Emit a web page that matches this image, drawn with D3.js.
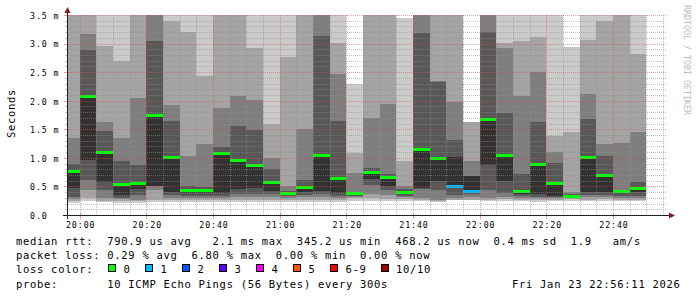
<!DOCTYPE html>
<html>
<head>
<meta charset="utf-8">
<script src="https://cdn.jsdelivr.net/npm/d3@7"></script>
<style>
  body { margin: 0; background: #fff; }
  svg text { font-family: "DejaVu Sans Mono", monospace; white-space: pre; }
</style>
</head>
<body>
<svg id="chart" width="697" height="297"></svg>
<script>
// off-scale ping (above the graph max, drawn to the top like smokeping's INF)
var INF = Infinity;

var timeStart = '19:56:11';
var timeEnd = '22:56:11';
var yMax = 3.5;

// end time of each 5 minute step
var times = [
  '20:00','20:05','20:10','20:15','20:20','20:25','20:30','20:35','20:40','20:45',
  '20:50','20:55','21:00','21:05','21:10','21:15','21:20','21:25','21:30','21:35',
  '21:40','21:45','21:50','21:55','22:00','22:05','22:10','22:15','22:20','22:25',
  '22:30','22:35','22:40','22:45','22:50'
];

// 10 sorted pings per step, in ms (null = lost)
var pings = [
  [.21,.25,.28,.32,.48,.79,.90,1.34,INF,INF],
  [.25,.29,.44,.61,.96,2.07,2.88,3.17,INF,INF],
  [.22,.25,.29,.44,.58,1.09,1.47,1.62,2.95,INF],
  [.21,.25,.28,.30,.35,.55,.95,1.34,2.69,INF],
  [.21,.24,.27,.35,.45,.57,.87,2.04,INF,INF],
  [.22,.27,.43,.50,.51,1.75,3.04,INF,INF,INF],
  [.22,.26,.30,.35,.41,1.01,1.64,1.93,3.40,INF],
  [.22,.26,.30,.33,.38,.45,.50,1.04,3.21,INF],
  [.22,.26,.30,.34,.38,.45,.49,1.25,2.44,INF],
  [.22,.26,.30,.34,.39,1.08,1.19,1.88,INF,INF],
  [.22,.26,.31,.37,.46,.97,1.56,2.08,INF,INF],
  [.22,.26,.31,.37,.47,.88,1.48,2.01,2.92,INF],
  [.22,.26,.31,.36,.42,.58,.80,.99,1.59,INF],
  [.22,.26,.30,.33,.35,.40,.42,.50,2.77,INF],
  [.22,.27,.31,.35,.40,.51,.62,1.51,INF,INF],
  [.22,.27,.31,.36,.42,1.06,3.13,INF,INF,INF],
  [.22,.26,.30,.34,.39,.66,1.64,2.47,3.01,INF],
  [.25,.30,.32,.34,.355,.37,.385,.735,1.085,2.29],
  [.25,.30,.37,.53,.63,.77,.83,1.70,INF,INF],
  [.24,.28,.35,.43,.50,.69,.72,1.94,INF,INF],
  [.24,.28,.31,.34,.36,.40,.45,.50,.94,3.45],
  [.25,.27,.29,.46,.47,1.17,3.19,INF,INF,INF],
  [.23,.25,.27,.44,.595,1.00,2.32,2.34,INF,INF],
  [.24,.27,.30,.35,.50,1.02,1.31,1.98,INF,null],
  [.24,.27,.31,.36,.41,.68,.69,.945,1.63,null],
  [.24,.27,.30,.44,.88,1.69,3.20,INF,INF,INF],
  [.24,.28,.32,.38,.60,1.05,1.79,2.92,3.01,INF],
  [.24,.27,.30,.33,.36,.44,.72,2.08,3.04,INF],
  [.23,.26,.29,.32,.36,.89,1.63,2.51,3.11,INF],
  [.24,.27,.29,.31,.33,.57,.91,1.11,1.38,INF],
  [.25,.28,.30,.31,.32,.34,.36,.40,1.45,2.94],
  [.24,.27,.31,.35,.41,1.03,1.68,2.12,3.06,INF],
  [.25,.28,.31,.35,.41,.71,1.04,1.24,3.40,INF],
  [.24,.26,.30,.34,.38,.43,.44,1.26,INF,INF],
  [.24,.27,.30,.34,.40,.47,.58,1.46,2.81,INF]
];

var median = [
  .77,2.07,1.09,.53,.56,1.74,1.00,.43,.43,1.07,
  .96,.87,.57,.38,.49,1.04,.64,.37,.75,.66,
  .39,1.15,.99,.50,.41,1.67,1.04,.42,.88,.56,
  .33,1.01,.70,.42,.46
];

// lost pings out of 10
var loss = [
  0,0,0,0,0,0,0,0,0,0,
  0,0,0,0,0,0,0,0,0,0,
  0,0,0,1,1,0,0,0,0,0,
  0,0,0,0,0
];

var yTicks = [0, 0.5, 1.0, 1.5, 2.0, 2.5, 3.0, 3.5];
var yTickLabels = ['0.0', '0.5 m', '1.0 m', '1.5 m', '2.0 m', '2.5 m', '3.0 m', '3.5 m'];

var lossLabels = ['0', '1', '2', '3', '4', '5', '6-9', '10/10'];
var lossColors = ['#00ff00', '#00b8ff', '#0059ff', '#5e00ff', '#ff00ff', '#ff5500', '#ff0000', '#a10000'];
// which legend colour each loss count uses
var lossIndex = [0, 1, 2, 3, 4, 5, 6, 6, 6, 6, 7];

var legendLines = [
  'median rtt:  790.9 us avg   2.1 ms max  345.2 us min  468.2 us now  0.4 ms sd  1.9   am/s',
  'packet loss: 0.29 % avg  6.80 % max  0.00 % min  0.00 % now',
  'loss color:',
  'probe:       10 ICMP Echo Pings (56 Bytes) every 300s'
];
var stamp = 'Fri Jan 23 22:56:11 2026';

// smokeping shades, outer pair first
var smokeGray = ['#cacaca', '#a4a4a4', '#7e7e7e', '#585858', '#323232'];

var svg = d3.select('#chart');
var x0 = 67, x1 = 667, yTop = 15, yBot = 215;
var gridCol = 'rgba(143,143,143,0.55)', mgridCol = 'rgba(222,79,79,0.55)', arrowCol = '#801f1f';

var parseT = d3.utcParse('%H:%M:%S'), parseM = d3.utcParse('%H:%M');
var x = d3.scaleUtc().domain([parseT(timeStart), parseT(timeEnd)]).range([x0, x1]);
var y = d3.scaleLinear().domain([0, yMax]).range([yBot, yTop]);
var yc = function(v) { return y(Math.min(v, yMax)); };

svg.append('rect').attr('width', 697).attr('height', 297).attr('fill', '#fff');

svg.append('clipPath').attr('id', 'plot')
  .append('rect').attr('x', x0).attr('y', yTop).attr('width', x1 - x0).attr('height', yBot - yTop);

var data = times.map(function(t, i) {
  var end = parseM(t);
  return { start: d3.utcMinute.offset(end, -5), end: end, p: pings[i], med: median[i], loss: loss[i] };
});

var plot = svg.append('g').attr('clip-path', 'url(#plot)').attr('shape-rendering', 'crispEdges');

// smoke: band from ping k to ping 11-k, inner bands darker
data.forEach(function(d) {
  var g = plot.append('g');
  for (var b = 0; b < 5; b++) {
    var lo = d.p[b], hi = d.p[9 - b];
    if (lo == null || hi == null) continue;
    g.append('rect')
      .attr('x', x(d.start))
      .attr('width', x(d.end) - x(d.start))
      .attr('y', yc(hi))
      .attr('height', yc(lo) - yc(hi))
      .attr('fill', smokeGray[b]);
  }
});

plot.selectAll('rect.median')
  .data(data)
  .join('rect')
  .attr('class', 'median')
  .attr('x', function(d) { return x(d.start); })
  .attr('width', function(d) { return x(d.end) - x(d.start); })
  .attr('y', function(d) { return yc(d.med) - 1.5; })
  .attr('height', 3)
  .attr('fill', function(d) { return lossColors[lossIndex[d.loss]]; });

// grid on top, like rrdtool
var grid = svg.append('g').attr('fill', 'none').attr('stroke-dasharray', '1,1').attr('shape-rendering', 'crispEdges');
var yMinor = d3.range(1, Math.round(yMax * 10) + 1).filter(function(i) { return i % 5 !== 0; }).map(function(i) { return i / 10; });
var xMinor = x.ticks(d3.utcMinute.every(5)).filter(function(t) { return t.getUTCMinutes() % 20 !== 0; });
var xMajor = x.ticks(d3.utcMinute.every(20));

grid.selectAll('line.ymin').data(yMinor).join('line')
  .attr('x1', x0).attr('x2', x1)
  .attr('y1', function(v) { return Math.round(y(v)) + 0.5; })
  .attr('y2', function(v) { return Math.round(y(v)) + 0.5; })
  .attr('stroke', gridCol);
grid.selectAll('line.xmin').data(xMinor).join('line')
  .attr('x1', function(t) { return Math.round(x(t)) + 0.5; })
  .attr('x2', function(t) { return Math.round(x(t)) + 0.5; })
  .attr('y1', yTop).attr('y2', yBot)
  .attr('stroke', gridCol);
grid.selectAll('line.ymaj').data(yTicks.slice(1)).join('line')
  .attr('x1', x0).attr('x2', x1)
  .attr('y1', function(v) { return Math.round(y(v)) + 0.5; })
  .attr('y2', function(v) { return Math.round(y(v)) + 0.5; })
  .attr('stroke', mgridCol);
grid.selectAll('line.xmaj').data(xMajor).join('line')
  .attr('x1', function(t) { return Math.round(x(t)) + 0.5; })
  .attr('x2', function(t) { return Math.round(x(t)) + 0.5; })
  .attr('y1', yTop).attr('y2', yBot)
  .attr('stroke', mgridCol);

// small ticks on the axes
var ticks = svg.append('g').attr('shape-rendering', 'crispEdges');
ticks.selectAll('line.yt').data(yMinor).join('line')
  .attr('x1', x0 - 2).attr('x2', x0)
  .attr('y1', function(v) { return Math.round(y(v)) + 0.5; })
  .attr('y2', function(v) { return Math.round(y(v)) + 0.5; })
  .attr('stroke', gridCol);
ticks.selectAll('line.ytm').data(yTicks.slice(1)).join('line')
  .attr('x1', x0 - 3).attr('x2', x0 + 2)
  .attr('y1', function(v) { return Math.round(y(v)) + 0.5; })
  .attr('y2', function(v) { return Math.round(y(v)) + 0.5; })
  .attr('stroke', mgridCol);
ticks.selectAll('line.xtm').data(xMajor).join('line')
  .attr('x1', function(t) { return Math.round(x(t)) + 0.5; })
  .attr('x2', function(t) { return Math.round(x(t)) + 0.5; })
  .attr('y1', yBot - 2).attr('y2', yBot + 4)
  .attr('stroke', mgridCol);

// axes with arrows
svg.append('line').attr('x1', x0 - 4).attr('x2', x1 + 4).attr('y1', yBot + 0.5).attr('y2', yBot + 0.5)
  .attr('stroke', '#1f1f1f').attr('shape-rendering', 'crispEdges');
svg.append('line').attr('x1', x0 + 0.5).attr('x2', x0 + 0.5).attr('y1', yBot + 4).attr('y2', yTop - 4)
  .attr('stroke', '#1f1f1f').attr('shape-rendering', 'crispEdges');
svg.append('path').attr('d', 'M' + (x1 + 2) + ',' + (yBot - 2.5) + 'L' + (x1 + 2) + ',' + (yBot + 3.5) + 'L' + (x1 + 8) + ',' + (yBot + 0.5) + 'Z')
  .attr('fill', arrowCol);
svg.append('path').attr('d', 'M' + (x0 - 2.5) + ',' + (yTop - 2) + 'L' + (x0 + 3.5) + ',' + (yTop - 2) + 'L' + (x0 + 0.5) + ',' + (yTop - 8) + 'Z')
  .attr('fill', arrowCol);

// tick labels
var xAxis = svg.append('g').attr('transform', 'translate(0,' + yBot + ')')
  .call(d3.axisBottom(x).ticks(d3.utcMinute.every(20)).tickFormat(d3.utcFormat('%H:%M')).tickSize(0).tickPadding(0));
xAxis.select('.domain').remove();
xAxis.selectAll('text')
  .attr('y', 12.7).attr('dy', null).attr('dx', 0.45)
  .style('font-family', '"DejaVu Sans Mono", monospace')
  .style('font-size', '8.3px').style('letter-spacing', '0.9px').attr('fill', '#000');

var yAxis = svg.append('g').attr('transform', 'translate(' + x0 + ',0)')
  .call(d3.axisLeft(y).tickValues(yTicks).tickFormat(function(d, i) { return yTickLabels[i]; }).tickSize(0));
yAxis.select('.domain').remove();
yAxis.selectAll('text')
  .attr('x', 30 - x0).attr('dy', null).attr('y', 3.3)
  .attr('text-anchor', 'start')
  .style('font-family', '"DejaVu Sans Mono", monospace')
  .style('font-size', '8.3px').style('letter-spacing', '0.9px').attr('fill', '#000');

svg.append('text')
  .attr('transform', 'translate(14.5,113.5) rotate(-90)')
  .attr('text-anchor', 'middle')
  .style('font-size', '10.5px').style('letter-spacing', '0.7px')
  .text('Seconds');

svg.append('text')
  .attr('transform', 'translate(683.5,5) rotate(90)')
  .style('font-size', '8.3px')
  .attr('fill', '#bdbdbd')
  .text('RRDTOOL / TOBI OETIKER');

// legend
var legend = svg.append('g').style('font-size', '10.5px').style('letter-spacing', '0.7px');
legend.selectAll('text.line').data(legendLines).join('text')
  .attr('class', 'line')
  .attr('x', 16)
  .attr('y', function(d, i) { return 244.5 + i * 14.4; })
  .text(function(d) { return d; });
legend.append('text').attr('x', 512).attr('y', 244.5 + 3 * 14.4).text(stamp);

var boxX = d3.scaleOrdinal().domain(lossLabels).range([108, 145, 182, 219, 256, 293, 330, 380.5]);
var keys = legend.selectAll('g.key').data(lossLabels).join('g').attr('class', 'key')
  .attr('transform', function(d) { return 'translate(' + boxX(d) + ',' + (244.5 + 2 * 14.4) + ')'; });
keys.append('rect')
  .attr('x', 0.5).attr('y', -8.5).attr('width', 7).attr('height', 7)
  .attr('fill', function(d, i) { return lossColors[i]; })
  .attr('stroke', '#000').attr('shape-rendering', 'crispEdges');
keys.append('text').attr('x', 15.4).text(function(d) { return d; });
</script>
</body>
</html>
